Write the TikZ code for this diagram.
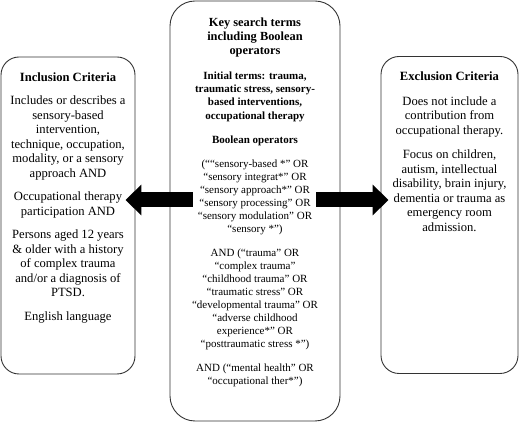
\documentclass[tikz,border=0pt]{standalone}
\usepackage{fontspec}
\setmainfont{Liberation Serif}
\usetikzlibrary{positioning,arrows.meta}

\tikzset{
  critbox/.style={draw=black!80, line width=0.9pt, rounded corners=18pt,
    minimum width=134pt, minimum height=317pt, inner sep=0pt},
  keyframe/.style={draw=black!80, line width=0.9pt, rounded corners=25pt,
    minimum width=170pt, minimum height=420pt, inner sep=0pt},
  sidetext/.style={align=center, inner sep=0pt, font=\fontsize{12.6}{14.5}\selectfont},
  keytitle/.style={align=center, inner sep=0pt, font=\bfseries\fontsize{12.4}{14}\selectfont},
  keytext/.style={align=center, inner sep=0pt, font=\fontsize{11}{13}\selectfont},
  bigarrow/.style={line width=15pt, -{Triangle[length=16pt,width=30pt]}}
}

\begin{document}
\begin{tikzpicture}[x=1pt,y=1pt]
        \useasboundingbox (0,0) rectangle (520,423);

        % Boxes
        \node[critbox] (incbox) at (68,207.5) {};
        \node[keyframe] (keybox) at (255,212) {};
        \node[critbox, minimum width=137pt] (excbox) at (449.5,208) {};

        % Inclusion criteria
        \node[sidetext, below=16pt of incbox.north] (inctext) {\textbf{Inclusion Criteria}\\[9pt]
          Includes or describes a\\ sensory-based\\ intervention,\\ technique, occupation,\\
          modality, or a sensory\\ approach AND\\[9pt]
          Occupational therapy\\ participation AND\\[9pt]
          Persons aged 12 years\\ \& older with a history\\ of complex trauma\\
          and/or a diagnosis of\\ PTSD.\\[9pt]
          English language};

        % Key search terms
        \node[keytitle, below=17pt of keybox.north] (keyhead) {Key search terms\\ including Boolean\\ operators};
        \node[keytext, below=14pt of keyhead] (keyterms) {\textbf{Initial terms: trauma,}\\[0.4pt]
          \textbf{traumatic stress, sensory-}\\[0.4pt] \textbf{based interventions,}\\[0.4pt]
          \textbf{occupational therapy}\\[11pt]
          \textbf{Boolean operators}\\[11pt]
          (““sensory-based *” OR\\ “sensory integrat*” OR\\ “sensory approach*” OR\\
          “sensory processing” OR\\ “sensory modulation” OR\\ “sensory *”)\\[11pt]
          AND (“trauma” OR\\ “complex trauma”\\ “childhood trauma” OR\\ “traumatic stress” OR\\
          “developmental trauma” OR\\ “adverse childhood\\ experience*” OR\\
          “posttraumatic stress *”)\\[11pt]
          AND (“mental health” OR\\ “occupational ther*”)};

        % Exclusion criteria
        \node[sidetext, below=16pt of excbox.north] (exctext) {\textbf{Exclusion Criteria}\\[10pt]
          Does not include a\\ contribution from\\ occupational therapy.\\[10pt]
          Focus on children,\\ autism, intellectual\\ disability, brain injury,\\
          dementia or trauma as\\ emergency room\\ admission.};

        % Arrows
        \draw[bigarrow] ([xshift=23pt,yshift=11pt]keybox.west) -- ([xshift=-10pt,yshift=15.5pt]incbox.east);
        \draw[bigarrow] ([xshift=-24pt,yshift=11pt]keybox.east) -- ([xshift=8pt,yshift=15pt]excbox.west);
\end{tikzpicture}
\end{document}
